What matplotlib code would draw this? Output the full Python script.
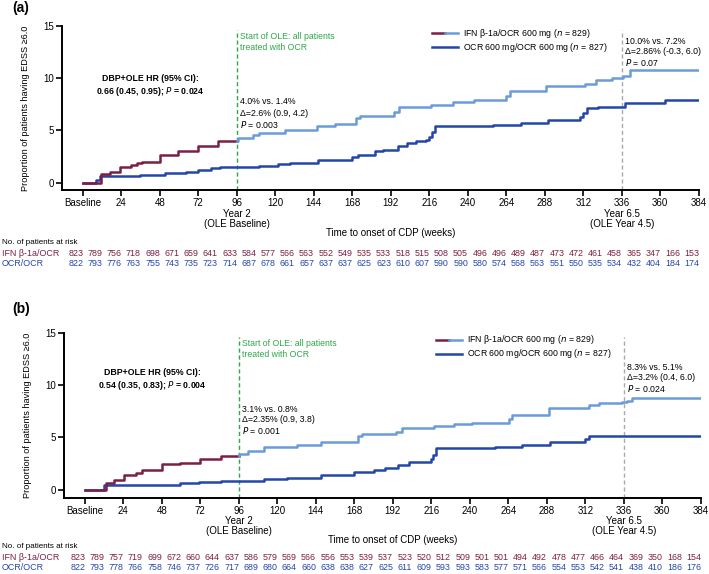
import numpy as np
import matplotlib.pyplot as plt
import matplotlib.transforms as mtransforms
from matplotlib.lines import Line2D

plt.rcParams['font.family'] = ['Liberation Sans', 'DejaVu Sans']

# --- colours ---
MAROON = "#7a1f45"
LIGHT = "#6b9bd9"
DARK = "#2446a8"
GREEN = "#2ea84a"
GREY = "#aaaaaa"

# --- x axis ---
tick_weeks = list(range(0, 385, 24))
tick_labels = ["Baseline"] + [str(w) for w in tick_weeks[1:]]
risk_weeks = list(range(0, 385, 12))

# --- panel (a): Kaplan-Meier steps (weeks, %) ---
a_ifn_w = [0, 11.6, 16.8, 23, 30, 33.5, 36.6, 48, 59.5, 72, 84.4, 97, 106, 110, 126, 146, 157,
           170, 173, 194, 197, 217, 231, 244, 264, 266, 289, 313, 320, 330, 337, 341, 384]
a_ifn_p = [0, 0.83, 1.05, 1.53, 1.7, 1.9, 2.0, 2.65, 3.06, 3.5, 4.0, 4.3, 4.55, 4.75, 5.0, 5.44, 5.65,
           6.2, 6.34, 6.72, 7.23, 7.42, 7.67, 7.93, 8.25, 8.73, 9.27, 9.46, 9.78, 10.0, 10.2, 10.8, 10.8]
a_ocr_w = [0, 8.5, 10.6, 35.5, 51, 64.6, 71.6, 80, 85.4, 110, 121.8, 129, 146.7, 167.5, 171.7, 182,
           187, 196.6, 201.8, 208, 214, 216, 217.5, 219.4, 255.8, 273, 290, 310, 312, 314, 321, 338,
           362.8, 384]
a_ocr_p = [0, 0.25, 0.6, 0.76, 0.93, 1.05, 1.18, 1.37, 1.45, 1.62, 1.81, 1.9, 2.15, 2.42, 2.67, 3.0,
           3.1, 3.53, 3.8, 3.95, 4.1, 4.4, 4.8, 5.38, 5.54, 5.7, 5.96, 6.3, 6.66, 7.13, 7.23, 7.6,
           7.93, 7.93]
a_risk_ifn = [823, 789, 756, 718, 698, 671, 659, 641, 633, 584, 577, 566, 563, 552, 549, 535, 533,
              518, 515, 508, 505, 496, 496, 489, 487, 473, 472, 461, 458, 365, 347, 166, 153]
a_risk_ocr = [822, 793, 776, 763, 755, 743, 735, 723, 714, 687, 678, 661, 657, 637, 637, 625, 623,
              610, 607, 590, 590, 580, 574, 568, 563, 551, 550, 535, 534, 432, 404, 184, 174]

# --- panel (b) ---
b_ifn_w = [0, 12.9, 18, 24.3, 31.6, 35.7, 48.2, 59.6, 72, 84.6, 96, 102, 111.6, 132.4, 147, 170,
           172.5, 193.7, 197.8, 217.6, 230, 241.5, 264.4, 266.4, 289.3, 314.2, 320.4, 335, 338, 341, 384]
b_ifn_p = [0, 0.65, 0.9, 1.38, 1.54, 1.86, 2.4, 2.58, 2.9, 3.2, 3.44, 3.66, 4.07, 4.29, 4.55, 5.12,
           5.34, 5.49, 5.87, 6.06, 6.25, 6.38, 6.76, 7.14, 7.77, 8.09, 8.28, 8.34, 8.5, 8.75, 8.75]
b_ocr_w = [0, 11.8, 59.6, 71, 84.6, 111.6, 126, 147, 167.7, 180, 187, 195.5, 202, 215.5, 217, 219,
           255.9, 272.6, 290, 312, 314, 384]
b_ocr_p = [0, 0.45, 0.58, 0.74, 0.85, 0.99, 1.12, 1.38, 1.63, 1.85, 2.08, 2.38, 2.6, 2.9, 3.3, 3.95,
           4.07, 4.23, 4.54, 4.8, 5.17, 5.17]
b_risk_ifn = [823, 789, 757, 719, 699, 672, 660, 644, 637, 586, 579, 569, 566, 556, 553, 539, 537,
              523, 520, 512, 509, 501, 501, 494, 492, 478, 477, 466, 464, 369, 350, 168, 154]
b_risk_ocr = [822, 793, 778, 766, 758, 746, 737, 726, 717, 689, 680, 664, 660, 638, 638, 627, 625,
              611, 609, 593, 593, 583, 577, 571, 566, 554, 553, 542, 541, 438, 410, 186, 176]

# layout per panel: pixel rows are relative to the panel offset dy
panels = [
    dict(label="(a)", ifn_w=a_ifn_w, ifn_p=a_ifn_p, ocr_w=a_ocr_w, ocr_p=a_ocr_p,
         r_ifn=a_risk_ifn, r_ocr=a_risk_ocr,
         hr="DBP+OLE HR (95% CI):\n0.66 (0.45, 0.95); $\\it{P}$ = 0.024",
         mid=["4.0% vs. 1.4%", "\u0394=2.6% (0.9, 4.2)", "0.003"],
         end=["10.0% vs. 7.2%", "\u0394=2.86% (-0.3, 6.0)", "0.07"],
         left=62, axis_y=190, top_y=26, dy=0, tdy=0,
         lab_y=8, hr_y=86, end_y=42, leg_x=432),
    dict(label="(b)", ifn_w=b_ifn_w, ifn_p=b_ifn_p, ocr_w=b_ocr_w, ocr_p=b_ocr_p,
         r_ifn=b_risk_ifn, r_ocr=b_risk_ocr,
         hr="DBP+OLE HR (95% CI):\n0.54 (0.35, 0.83); $\\it{P}$ = 0.004",
         mid=["3.1% vs. 0.8%", "\u0394=2.35% (0.9, 3.8)", "0.001"],
         end=["8.3% vs. 5.1%", "\u0394=3.2% (0.4, 6.0)", "0.024"],
         left=64, axis_y=498, top_y=333, dy=307, tdy=304,
         lab_y=2, hr_y=73, end_y=61, leg_x=436),
]

W, H = 709, 574
fig = plt.figure(figsize=(W / 100, H / 100), dpi=100)

XMIN, XMAX = -13, 384
fs = 7.0     # axis text
fa = 6.3     # annotations / legend
fr = 6.4     # risk table

for p in panels:
    left = p["left"] / W
    bottom = 1 - p["axis_y"] / H
    height = (p["axis_y"] - p["top_y"]) / H
    width = (XMAX - XMIN) * 1.604 / W
    ax = fig.add_axes([left, bottom, width, height])
    ymin = -(p["axis_y"] - p["top_y"] - 157) / 10.47 - 0.05
    ax.set_xlim(XMIN, XMAX)
    ax.set_ylim(ymin, 15)

    # IFN: maroon during DBP, light blue in OLE
    iw = np.array(p["ifn_w"]); ip = np.array(p["ifn_p"])
    pre = iw < 96
    ax.step(np.append(iw[pre], 96), np.append(ip[pre], ip[pre][-1]), where="post",
            color=MAROON, lw=1.8, zorder=3)
    post_w = np.insert(iw[~pre], 0, 96)
    post_p = np.insert(ip[~pre], 0, ip[pre][-1])
    ax.step(post_w, post_p, where="post", color=LIGHT, lw=1.8, zorder=3)
    ax.step(p["ocr_w"], p["ocr_p"], where="post", color=DARK, lw=1.8, zorder=2)

    ax.plot([96, 96], [ymin, 14.6], ls=(0, (3, 2)), color=GREEN, lw=1.0, zorder=1)
    ax.plot([336, 336], [ymin, 14.6], ls=(0, (3, 2)), color=GREY, lw=1.0, zorder=1)

    for s in ["top", "right"]:
        ax.spines[s].set_visible(False)
    for s in ["left", "bottom"]:
        ax.spines[s].set_linewidth(1.4)
    ax.set_xticks(tick_weeks)
    ax.set_xticklabels(tick_labels, fontsize=fs)
    ax.set_yticks([0, 5, 10, 15])
    ax.set_yticklabels(["0", "5", "10", "15"], fontsize=fs)
    ax.tick_params(width=1.2, length=4, pad=2)
    ax.set_ylabel("Proportion of patients having EDSS \u22656.0", fontsize=6.6, labelpad=9)

    dy = p["dy"]
    tdy = p["tdy"]
    fx = mtransforms.blended_transform_factory(ax.transData, fig.transFigure)

    def fy(y, off=dy):
        return 1 - (y + off) / H

    # under-axis labels
    for wk, l1, l2 in [(96, "Year 2", "(OLE Baseline)"), (336, "Year 6.5", "(OLE Year 4.5)")]:
        ax.text(wk, fy(214), l1, transform=fx, ha="center", va="center", fontsize=fs)
        ax.text(wk, fy(224), l2, transform=fx, ha="center", va="center", fontsize=fs)
    ax.text(192, fy(233), "Time to onset of CDP (weeks)", transform=fx, ha="center", va="center",
            fontsize=fs)

    # risk table
    fig.text(2 / W, fy(242, tdy), "No. of patients at risk", ha="left", va="center", fontsize=5.8)
    fig.text(2 / W, fy(254, tdy), "IFN \u03b2-1a/OCR", ha="left", va="center", fontsize=fr,
             color=MAROON)
    fig.text(2 / W, fy(264, tdy), "OCR/OCR", ha="left", va="center", fontsize=fr, color=DARK)
    for wk, n1, n2 in zip(risk_weeks, p["r_ifn"], p["r_ocr"]):
        ax.text(wk - 4.5, fy(254, tdy), str(n1), transform=fx, ha="center", va="center",
                fontsize=fr, color=MAROON)
        ax.text(wk - 4.5, fy(264, tdy), str(n2), transform=fx, ha="center", va="center",
                fontsize=fr, color=DARK)

    # panel label
    fig.text(12 / W, fy(p["lab_y"]), p["label"], ha="left", va="center", fontsize=10,
             fontweight="bold")

    # legend (hand-drawn to get the two-colour line)
    lx0 = p["leg_x"]
    for i, (txt, cols) in enumerate([
            ("IFN \u03b2-1a/OCR 600 mg ($\\it{n}$ = 829)", [MAROON, LIGHT]),
            ("OCR 600 mg/OCR 600 mg ($\\it{n}$ = 827)", [DARK])]):
        yy = fy(33 + 14 * i)
        if len(cols) == 2:
            fig.add_artist(Line2D([lx0 / W, (lx0 + 13) / W], [yy, yy], color=cols[0], lw=1.8))
            fig.add_artist(Line2D([(lx0 + 13) / W, (lx0 + 26) / W], [yy, yy], color=cols[1], lw=1.8))
        else:
            fig.add_artist(Line2D([lx0 / W, (lx0 + 26) / W], [yy, yy], color=cols[0], lw=1.8))
        fig.text((lx0 + 31) / W, yy, txt, ha="left", va="center", fontsize=fa)

    # annotations
    ax.text(98, fy(42), "Start of OLE: all patients\ntreated with OCR", transform=fx,
            ha="left", va="center", fontsize=fa, color=GREEN, linespacing=1.35)
    ax.text(42, fy(p["hr_y"]), p["hr"], transform=fx, ha="center", va="center", fontsize=fa,
            fontweight="bold", linespacing=1.3)
    for i, t in enumerate(p["mid"]):
        s = t if i < 2 else "$\\it{P}$ = " + t
        ax.text(98, fy(102 + 11 * i), s, transform=fx, ha="left", va="center", fontsize=fa)
    for i, t in enumerate(p["end"]):
        s = t if i < 2 else "$\\it{P}$ = " + t
        ax.text(338, fy(p["end_y"] + 10 * i), s, transform=fx, ha="left", va="center", fontsize=fa)

fig.savefig("out.png", dpi=100)
